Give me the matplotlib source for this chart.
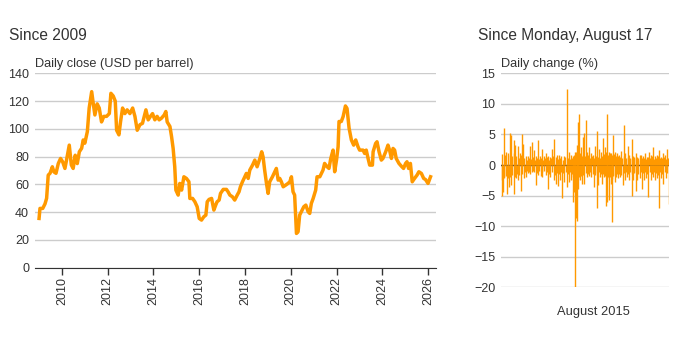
import matplotlib
matplotlib.use('agg')
import matplotlib.pyplot as plt
import numpy as np

plt.rcParams['font.family'] = ['Liberation Sans', 'DejaVu Sans']

ORANGE = '#ff9900'
TEXT = '#333333'
GRID = '#cccccc'

# daily close, USD per barrel (decimal year, price)
close_year = [2009.00, 2009.04, 2009.16, 2009.26, 2009.33, 2009.40, 2009.48, 2009.58,
              2009.65, 2009.74, 2009.84, 2009.94, 2010.03, 2010.13, 2010.20, 2010.32,
              2010.41, 2010.49, 2010.58, 2010.67, 2010.76, 2010.86, 2010.93, 2011.00,
              2011.11, 2011.15, 2011.19, 2011.30, 2011.37, 2011.44, 2011.54, 2011.63,
              2011.73, 2011.83, 2011.95, 2012.07, 2012.14, 2012.24, 2012.33, 2012.39,
              2012.49, 2012.56, 2012.65, 2012.75, 2012.85, 2012.97, 2013.09, 2013.19,
              2013.29, 2013.41, 2013.52, 2013.67, 2013.77, 2013.87, 2013.96, 2014.06,
              2014.16, 2014.25, 2014.35, 2014.47, 2014.54, 2014.60, 2014.72, 2014.79,
              2014.86, 2014.93, 2014.98, 2015.08, 2015.15, 2015.23, 2015.33, 2015.44,
              2015.55, 2015.59, 2015.71, 2015.81, 2015.91, 2016.00, 2016.10, 2016.20,
              2016.29, 2016.35, 2016.43, 2016.54, 2016.64, 2016.72, 2016.78, 2016.87,
              2016.93, 2017.05, 2017.19, 2017.26, 2017.34, 2017.45, 2017.55, 2017.66,
              2017.74, 2017.80, 2017.89, 2017.99, 2018.06, 2018.14, 2018.21, 2018.33,
              2018.43, 2018.53, 2018.65, 2018.73, 2018.79, 2018.86, 2018.94, 2019.01,
              2019.08, 2019.20, 2019.30, 2019.37, 2019.45, 2019.52, 2019.59, 2019.67,
              2019.78, 2019.88, 2019.96, 2020.03, 2020.10, 2020.17, 2020.25, 2020.32,
              2020.39, 2020.46, 2020.57, 2020.66, 2020.76, 2020.83, 2020.90, 2020.98,
              2021.09, 2021.15, 2021.27, 2021.34, 2021.41, 2021.48, 2021.59, 2021.67,
              2021.75, 2021.85, 2021.92, 2022.00, 2022.07, 2022.11, 2022.21, 2022.29,
              2022.39, 2022.46, 2022.55, 2022.65, 2022.75, 2022.84, 2022.94, 2023.01,
              2023.16, 2023.23, 2023.30, 2023.38, 2023.45, 2023.57, 2023.60, 2023.71,
              2023.77, 2023.86, 2023.96, 2024.03, 2024.15, 2024.25, 2024.32, 2024.40,
              2024.47, 2024.54, 2024.61, 2024.73, 2024.83, 2024.93, 2025.02, 2025.08,
              2025.15, 2025.23, 2025.31, 2025.41, 2025.52, 2025.60, 2025.71, 2025.81,
              2025.89, 2026.00, 2026.11]
close_usd = [35.5, 42.7, 42.7, 46.0, 50.0, 66.7, 68.0, 72.7,
             69.0, 68.0, 75.0, 78.7, 76.3, 71.5, 77.5, 88.3,
             74.0, 71.5, 81.0, 75.0, 83.5, 86.0, 92.0, 89.7,
             98.0, 106.5, 115.0, 126.8, 118.0, 110.0, 118.0, 115.0,
             105.0, 109.0, 109.0, 111.0, 125.6, 123.7, 120.0, 99.0,
             95.7, 105.0, 115.0, 111.0, 113.7, 111.0, 115.0, 109.0,
             99.0, 103.0, 104.0, 113.7, 106.5, 109.0, 111.0, 106.5,
             109.0, 106.5, 107.7, 110.0, 112.5, 105.0, 101.7, 94.5,
             85.9, 72.7, 55.9, 52.3, 60.7, 55.9, 65.5, 64.3,
             61.9, 49.9, 49.9, 47.5, 43.9, 35.5, 34.3, 36.7,
             37.9, 47.5, 49.2, 49.9, 41.5, 45.1, 47.5, 48.7,
             53.5, 56.4, 56.4, 54.7, 52.3, 51.1, 48.7, 52.3,
             54.7, 58.3, 61.9, 65.5, 67.9, 64.3, 70.3, 73.9,
             77.5, 72.7, 78.7, 83.5, 79.9, 70.3, 60.7, 53.5,
             61.9, 65.5, 69.1, 71.5, 63.1, 64.3, 61.9, 58.3,
             59.5, 60.7, 61.9, 65.5, 54.7, 52.3, 24.7, 25.9,
             37.9, 40.3, 43.9, 45.1, 40.3, 39.1, 46.3, 49.9,
             55.9, 65.5, 65.5, 67.9, 70.3, 75.1, 72.7, 71.5,
             78.7, 84.7, 69.1, 77.5, 87.1, 105.3, 105.3, 108.9,
             116.5, 114.7, 100.5, 92.0, 88.3, 92.0, 87.1, 84.7,
             84.7, 82.3, 84.7, 78.7, 73.9, 73.9, 83.5, 89.5,
             90.7, 83.5, 77.5, 78.7, 83.5, 88.3, 84.7, 78.7,
             85.9, 84.7, 78.7, 75.1, 73.2, 71.5, 75.1, 76.3,
             71.5, 75.1, 61.9, 64.3, 66.7, 69.1, 67.9, 64.3,
             63.5, 60.7, 65.5]
close_ticks = [2010, 2012, 2014, 2016, 2018, 2020, 2022, 2024, 2026]
close_yticks = [0, 20, 40, 60, 80, 100, 120, 140]

# daily change (%) since August 17, 2015: the larger gains and losses
gain_year = [2015.79, 2015.92, 2016.17, 2016.25, 2016.41, 2016.50, 2016.66, 2016.79,
             2016.91, 2017.00, 2017.16, 2017.29, 2017.41, 2017.54, 2017.66, 2017.79,
             2017.91, 2018.03, 2018.20, 2018.33, 2018.45, 2018.57, 2018.70, 2018.82,
             2018.95, 2019.11, 2019.24, 2019.38, 2019.57, 2019.72, 2019.84, 2019.99,
             2020.11, 2020.24, 2020.36, 2020.42, 2020.49, 2020.61, 2020.73, 2020.82,
             2020.90, 2020.98, 2021.11, 2021.23, 2021.36, 2021.48, 2021.61, 2021.73,
             2021.86, 2021.98, 2022.11, 2022.23, 2022.35, 2022.48, 2022.60, 2022.73,
             2022.85, 2022.98, 2023.10, 2023.27, 2023.39, 2023.52, 2023.64, 2023.77,
             2023.89, 2024.02, 2024.14, 2024.27, 2024.39, 2024.51, 2024.64, 2024.76,
             2024.89, 2025.01, 2025.10, 2025.22, 2025.35, 2025.51, 2025.64, 2025.76,
             2025.89, 2026.01, 2026.09]
gain_pct = [6.0, 2.2, 5.3, 4.9, 4.1, 3.3, 3.1, 1.9,
            5.0, 3.5, 1.5, 1.4, 3.1, 3.8, 2.4, 1.5,
            4.1, 1.4, 2.7, 1.4, 1.9, 1.4, 1.3, 2.7,
            4.2, 1.6, 1.6, 1.4, 1.4, 12.4, 2.2, 1.6,
            1.4, 2.2, 3.3, 7.1, 8.4, 3.0, 4.6, 5.2,
            7.3, 2.2, 3.0, 1.9, 1.6, 3.1, 5.6, 2.6,
            2.2, 4.5, 3.0, 8.3, 2.2, 2.0, 4.9, 2.2,
            1.9, 1.6, 2.3, 6.5, 1.9, 3.1, 1.6, 4.2,
            1.4, 1.9, 1.3, 1.6, 1.6, 1.4, 1.9, 1.3,
            2.2, 1.6, 2.9, 1.4, 1.6, 2.4, 1.3, 1.9,
            1.6, 2.7, 1.1]
loss_year = [2015.67, 2015.75, 2015.83, 2016.00, 2016.12, 2016.25, 2016.41, 2016.54,
             2016.66, 2016.87, 2017.04, 2017.16, 2017.45, 2017.79, 2017.91, 2018.12,
             2018.20, 2018.41, 2018.57, 2018.70, 2018.91, 2019.03, 2019.16, 2019.32,
             2019.45, 2019.57, 2019.74, 2019.86, 2019.99, 2020.11, 2020.17, 2020.24,
             2020.30, 2020.34, 2020.40, 2020.53, 2020.69, 2020.82, 2020.98, 2021.11,
             2021.27, 2021.44, 2021.59, 2021.69, 2021.81, 2021.94, 2022.06, 2022.17,
             2022.25, 2022.35, 2022.48, 2022.58, 2022.71, 2022.81, 2022.94, 2023.06,
             2023.21, 2023.35, 2023.48, 2023.60, 2023.77, 2023.89, 2024.02, 2024.14,
             2024.27, 2024.43, 2024.56, 2024.68, 2024.83, 2024.97, 2025.10, 2025.22,
             2025.35, 2025.51, 2025.64, 2025.76, 2025.93, 2026.09]
loss_pct = [-5.0, -4.4, -2.2, -4.7, -3.6, -3.3, -4.7, -2.1,
            -2.5, -4.3, -2.2, -1.9, -1.5, -3.3, -1.7, -1.8,
            -1.9, -1.7, -3.9, -1.9, -2.5, -3.1, -3.5, -2.5,
            -5.4, -2.8, -3.6, -2.8, -2.4, -6.0, -4.4, -20.0,
            -8.6, -9.2, -3.9, -2.5, -3.1, -3.1, -1.9, -1.8,
            -1.9, -3.6, -7.0, -3.3, -1.9, -3.1, -1.9, -6.7,
            -6.1, -5.8, -3.1, -9.3, -2.8, -1.9, -2.2, -1.9,
            -3.2, -2.5, -1.9, -2.5, -5.0, -2.5, -4.3, -2.5,
            -2.2, -4.0, -2.5, -2.1, -5.2, -2.5, -1.9, -2.5,
            -2.1, -7.1, -2.2, -3.1, -2.2, -6.3]

# the smaller everyday moves that fill the band around zero
small_gain_year = [2015.66, 2015.85, 2016.05, 2016.21, 2016.33, 2016.45, 2016.58, 2016.72,
                   2016.85, 2016.95, 2017.08, 2017.22, 2017.35, 2017.47, 2017.60, 2017.72,
                   2017.85, 2017.97, 2018.11, 2018.26, 2018.39, 2018.51, 2018.63, 2018.76,
                   2018.88, 2019.03, 2019.17, 2019.31, 2019.47, 2019.64, 2019.78, 2019.91,
                   2020.05, 2020.17, 2020.30, 2020.39, 2020.45, 2020.55, 2020.67, 2020.77,
                   2020.86, 2020.94, 2021.04, 2021.17, 2021.29, 2021.42, 2021.54, 2021.67,
                   2021.79, 2021.92, 2022.04, 2022.17, 2022.29, 2022.41, 2022.54, 2022.66,
                   2022.79, 2022.91, 2023.04, 2023.18, 2023.33, 2023.45, 2023.58, 2023.70,
                   2023.83, 2023.95, 2024.08, 2024.20, 2024.33, 2024.45, 2024.57, 2024.70,
                   2024.82, 2024.95, 2025.05, 2025.16, 2025.28, 2025.43, 2025.57, 2025.70,
                   2025.82, 2025.95, 2026.05]
small_gain_pct = [1.8, 1.6, 2.0, 1.7, 1.5, 1.9, 1.4, 1.2,
                  1.6, 1.3, 1.1, 0.9, 1.2, 1.0, 1.3, 0.9,
                  1.1, 1.0, 1.2, 0.9, 1.1, 1.3, 0.8, 1.2,
                  1.5, 1.3, 1.0, 1.2, 0.9, 1.3, 1.1, 1.0,
                  1.2, 1.6, 2.2, 1.8, 2.5, 1.9, 1.4, 1.7,
                  1.5, 1.3, 1.6, 1.2, 1.4, 1.1, 1.5, 1.3,
                  1.2, 1.5, 1.8, 2.1, 1.7, 1.9, 1.6, 1.8,
                  1.5, 1.4, 1.3, 1.2, 1.5, 1.1, 1.3, 1.2,
                  1.0, 1.3, 1.1, 1.2, 0.9, 1.1, 1.2, 1.0,
                  1.3, 1.1, 1.4, 1.0, 1.2, 1.5, 1.1, 1.2,
                  1.3, 1.0, 1.2]
small_loss_year = [2015.71, 2015.79, 2015.92, 2016.06, 2016.18, 2016.33, 2016.47, 2016.60,
                   2016.76, 2016.95, 2017.10, 2017.22, 2017.30, 2017.38, 2017.55, 2017.62,
                   2017.68, 2017.85, 2018.01, 2018.16, 2018.30, 2018.49, 2018.63, 2018.80,
                   2018.97, 2019.10, 2019.24, 2019.38, 2019.51, 2019.65, 2019.80, 2019.92,
                   2020.05, 2020.14, 2020.20, 2020.27, 2020.37, 2020.46, 2020.61, 2020.75,
                   2020.90, 2021.04, 2021.19, 2021.35, 2021.51, 2021.64, 2021.75, 2021.87,
                   2022.00, 2022.11, 2022.21, 2022.30, 2022.41, 2022.53, 2022.64, 2022.76,
                   2022.87, 2023.00, 2023.13, 2023.28, 2023.41, 2023.54, 2023.68, 2023.83,
                   2023.95, 2024.08, 2024.20, 2024.35, 2024.49, 2024.62, 2024.75, 2024.90,
                   2025.03, 2025.16, 2025.28, 2025.43, 2025.57, 2025.70, 2025.84, 2026.01]
small_loss_pct = [-2.4, -2.0, -1.8, -2.2, -1.9, -1.6, -2.0, -1.5,
                  -1.7, -1.4, -1.2, -1.0, -1.3, -1.1, -1.2, -0.9,
                  -1.1, -1.3, -1.0, -1.2, -0.9, -1.1, -1.4, -1.2,
                  -1.6, -1.3, -1.5, -1.1, -1.3, -1.2, -1.4, -1.1,
                  -1.5, -2.0, -2.6, -3.0, -2.4, -2.0, -1.8, -1.6,
                  -1.3, -1.5, -1.2, -1.4, -1.6, -1.3, -1.2, -1.5,
                  -1.4, -1.8, -2.2, -2.0, -1.9, -2.3, -1.8, -1.6,
                  -1.5, -1.4, -1.6, -1.3, -1.2, -1.4, -1.1, -1.5,
                  -1.3, -1.2, -1.4, -1.1, -1.3, -1.2, -1.5, -1.2,
                  -1.4, -1.1, -1.3, -1.6, -1.2, -1.4, -1.1, -1.3]
change_yticks = [-20, -15, -10, -5, 0, 5, 10, 15]


def style_axes(ax):
    for side in ['top', 'right', 'left', 'bottom']:
        ax.spines[side].set_visible(False)
    ax.yaxis.grid(True, color=GRID, linewidth=1)
    ax.set_axisbelow(True)
    ax.tick_params(axis='y', length=0, labelsize=9, colors=TEXT, pad=4)


fig = plt.figure(figsize=(7, 3.5), dpi=100)

# left panel: price history
ax1 = fig.add_axes([0.0496, 0.2351, 0.5733, 0.5554])
style_axes(ax1)
ax1.plot(close_year, close_usd, color=ORANGE, linewidth=2.5, solid_joinstyle='round')
ax1.set_xlim(2008.81, 2026.35)
ax1.set_ylim(0, 140)
ax1.set_yticks(close_yticks)
ax1.set_xticks(close_ticks)
ax1.set_xticklabels([str(t) for t in close_ticks], rotation=90)
ax1.spines['bottom'].set_visible(True)
ax1.spines['bottom'].set_color(TEXT)
ax1.tick_params(axis='x', length=5, width=1, colors=TEXT, labelsize=9, pad=2)
ax1.text(0.0, 1.015, "Daily close (USD per barrel)", transform=ax1.transAxes,
         fontsize=9.2, color=TEXT, ha='left', va='bottom')
fig.text(9 / 700, 1 - 35.5 / 350, "Since 2009", fontsize=11.2, color=TEXT,
         ha='left', va='center')

# right panel: daily changes
ax2 = fig.add_axes([0.7157, 0.1791, 0.24, 0.6114])
style_axes(ax2)
ax2.axhline(0, color=TEXT, linewidth=1, zorder=1)
for xs, ys in [(small_gain_year, small_gain_pct), (small_loss_year, small_loss_pct),
               (gain_year, gain_pct), (loss_year, loss_pct)]:
    ax2.vlines(xs, 0, ys, colors=ORANGE, linewidth=1, zorder=2)
ax2.set_xlim(2015.62, 2026.11)
ax2.set_ylim(-20, 15)
ax2.set_yticks(change_yticks)
ax2.set_xticks([])
ax2.text(0.548, -0.114, "August 2015", transform=ax2.transAxes,
         fontsize=9.3, color=TEXT, ha='center', va='center')
ax2.text(0.0, 1.015, "Daily change (%)", transform=ax2.transAxes,
         fontsize=9.2, color=TEXT, ha='left', va='bottom')
fig.text(478 / 700, 1 - 35.5 / 350, "Since Monday, August 17", fontsize=11.2,
         color=TEXT, ha='left', va='center')

fig.savefig("out.png", dpi=100)
